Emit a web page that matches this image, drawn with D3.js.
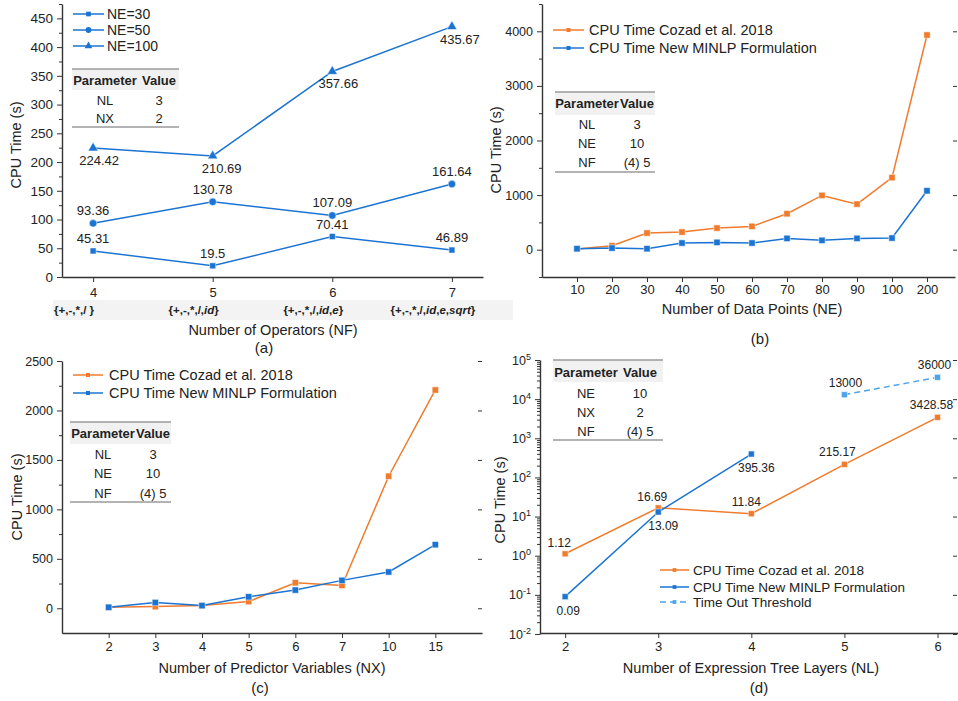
<!DOCTYPE html>
<html>
<head>
<meta charset="utf-8">
<script src="https://cdn.jsdelivr.net/npm/d3@7"></script>
<style>
  body { margin: 0; background: #fff; }
  svg { font-family: "Liberation Sans", Arial, sans-serif; }
</style>
</head>
<body>
<svg id="chart" width="958" height="701"></svg>
<script>
'use strict';

// panel (a): operators
const opCounts = [4, 5, 6, 7];
const opSets = [
  [['{+,-,*,/ }', false]],
  [['{+,-,*,/,', false], ['id', true], ['}', false]],
  [['{+,-,*,/,', false], ['id', true], [',', false], ['e', true], ['}', false]],
  [['{+,-,*,/,', false], ['id', true], [',', false], ['e', true], [',', false], ['sqrt', true], ['}', false]],
];
const ne30 = [45.31, 19.5, 70.41, 46.89];
const ne50 = [93.36, 130.78, 107.09, 161.64];
const ne100 = [224.42, 210.69, 357.66, 435.67];
const paramsA = [['NL', '3'], ['NX', '2']];

// panel (b): data points
const dataPoints = ['10', '20', '30', '40', '50', '60', '70', '80', '90', '100', '200'];
const cozadB = [15, 73, 305, 323, 396, 427, 659, 994, 835, 1320, 3932];
const minlpB = [18, 30, 18, 122, 134, 122, 207, 171, 207, 213, 1079];
const paramsB = [['NL', '3'], ['NE', '10'], ['NF', '(4) 5']];

// panel (c): predictor variables
const predictors = ['2', '3', '4', '5', '6', '7', '10', '15'];
const cozadC = [10, 17, 27, 68, 258, 231, 1335, 2207];
const minlpC = [10, 58, 27, 116, 184, 282, 367, 643];
const paramsC = [['NL', '3'], ['NE', '10'], ['NF', '(4) 5']];

// panel (d): tree layers
const layers = [2, 3, 4, 5, 6];
const cozadD = [1.12, 16.69, 11.84, 215.17, 3428.58];
const minlpD = [0.09, 13.09, 395.36];
const timeoutLayers = [5, 6];
const timeoutD = [13000, 36000];
const paramsD = [['NE', '10'], ['NX', '2'], ['NF', '(4) 5']];

const BLUE = '#1c74d2';
const ORANGE = '#f07b2c';
const LIGHT_BLUE = '#4ea4e8';
const INK = '#222';
const AXIS = '#333';

const svg = d3.select('#chart');

function yAxisLeft(y, x, major, minor, fmt, fontSize) {
  if (minor) {
    svg.append('g').attr('transform', `translate(${x},0)`)
       .call(d3.axisLeft(y).tickValues(minor).tickSize(3).tickFormat(''))
       .call(g => g.select('.domain').remove())
       .selectAll('line').attr('stroke', AXIS);
  }
  const g = svg.append('g').attr('transform', `translate(${x},0)`)
     .call(d3.axisLeft(y).tickValues(major).tickSize(5).tickSizeOuter(0)
             .tickPadding(4).tickFormat(fmt));
  g.select('.domain').attr('stroke', AXIS).attr('stroke-width', 1.4);
  g.selectAll('line').attr('stroke', AXIS);
  g.selectAll('text').attr('font-size', fontSize).attr('fill', INK)
   .attr('font-family', '"Liberation Sans", Arial, sans-serif');
  return g;
}

function yAxisRightTicks(y, x, major) {
  svg.append('g').attr('transform', `translate(${x},0)`)
     .call(d3.axisRight(y).tickValues(major).tickSize(-4).tickFormat(''))
     .call(g => g.select('.domain').remove())
     .selectAll('line').attr('stroke', AXIS);
}

function xAxisBottom(x, y, values, labels, pad) {
  const g = svg.append('g').attr('transform', `translate(0,${y})`)
     .call(d3.axisBottom(x).tickValues(values).tickSize(5).tickSizeOuter(0)
             .tickPadding(pad).tickFormat((d, i) => labels[i]));
  g.select('.domain').attr('stroke', AXIS).attr('stroke-width', 1.4);
  g.selectAll('line').attr('stroke', AXIS);
  g.selectAll('text').attr('font-size', 13).attr('fill', INK)
   .attr('font-family', '"Liberation Sans", Arial, sans-serif');
}

function title(txt, x, y, rotate, size) {
  const t = svg.append('text').attr('text-anchor', 'middle')
     .attr('font-size', size || 14.5).attr('fill', INK).attr('dy', '0.35em')
     .text(txt);
  if (rotate) t.attr('transform', `translate(${x},${y}) rotate(-90)`);
  else t.attr('x', x).attr('y', y);
}

function series(xs, ys, x, y, color, symbolType, size, dashed) {
  const pts = xs.map((v, i) => [x(v), y(ys[i])]);
  svg.append('path').attr('d', d3.line()(pts))
     .attr('fill', 'none').attr('stroke', color).attr('stroke-width', 1.5)
     .attr('stroke-dasharray', dashed ? '6,4' : null);
  svg.append('g').selectAll('path').data(pts).enter().append('path')
     .attr('transform', d => `translate(${d[0]},${d[1]})`)
     .attr('d', d3.symbol().type(symbolType).size(size))
     .attr('fill', color).attr('stroke', '#fff').attr('stroke-width', 0.5);
}

function pointLabels(xs, ys, x, y, offsets, fontSize) {
  svg.append('g').selectAll('text').data(xs).enter().append('text')
     .attr('x', (d, i) => x(d) + offsets[i][0])
     .attr('y', (d, i) => y(ys[i]) + offsets[i][1])
     .attr('text-anchor', 'middle').attr('font-size', fontSize).attr('fill', INK)
     .text((d, i) => ys[i]);
}

function legend(items, x0, x1, tx, ys, fontSize) {
  items.forEach((it, i) => {
    svg.append('line').attr('x1', x0).attr('x2', x1).attr('y1', ys[i]).attr('y2', ys[i])
       .attr('stroke', it.color).attr('stroke-width', 1.5)
       .attr('stroke-dasharray', it.dashed ? '6,4' : null);
    svg.append('path').attr('transform', `translate(${(x0 + x1) / 2},${ys[i]})`)
       .attr('d', d3.symbol().type(it.symbol).size(it.size)).attr('fill', it.color);
    svg.append('text').attr('x', tx).attr('y', ys[i]).attr('dy', '0.35em')
       .attr('font-size', fontSize).attr('fill', INK).text(it.label);
  });
}

function paramTable(rows, t) {
  svg.append('rect').attr('x', t.left).attr('y', t.top)
     .attr('width', t.right - t.left).attr('height', t.headBottom - t.top).attr('fill', '#f1f1f1');
  [t.top, t.bottom].forEach(yy => svg.append('line')
     .attr('x1', t.left).attr('x2', t.right).attr('y1', yy).attr('y2', yy)
     .attr('stroke', '#9a9a9a').attr('stroke-width', 1.5));
  const head = svg.append('g').attr('font-size', 13).attr('font-weight', 'bold').attr('fill', INK)
     .attr('text-anchor', 'middle');
  head.append('text').attr('x', t.c1).attr('y', t.headY).attr('dy', '0.35em').text('Parameter');
  head.append('text').attr('x', t.c2).attr('y', t.headY).attr('dy', '0.35em').text('Value');
  const body = svg.append('g').attr('font-size', 13).attr('fill', INK).attr('text-anchor', 'middle');
  rows.forEach((r, i) => {
    const yy = t.row0 + i * t.step;
    body.append('text').attr('x', t.c1).attr('y', yy).attr('dy', '0.35em').text(r[0]);
    body.append('text').attr('x', t.c2).attr('y', yy).attr('dy', '0.35em').text(r[1]);
  });
}

// ---------- panel (a)
const xA = d3.scaleLinear().domain([3.74, 7.26]).range([62, 483]);
const yA = d3.scaleLinear().domain([0, 475]).range([277, 4]);
yAxisLeft(yA, 62, d3.range(0, 451, 50), d3.range(25, 476, 50), d3.format('d'), 13.5);
xAxisBottom(xA, 277, opCounts, opCounts.map(String), 5.5);
svg.append('rect').attr('x', 53).attr('y', 300).attr('width', 460).attr('height', 20).attr('fill', '#f3f3f3');
svg.append('g').selectAll('text').data(opSets).enter().append('text')
   .attr('x', (d, i) => xA(opCounts[i]) - 19).attr('y', 310).attr('dy', '0.35em')
   .attr('text-anchor', 'middle').attr('font-size', 11.5).attr('font-weight', 'bold').attr('fill', INK)
   .each(function (parts) {
     const t = d3.select(this);
     parts.forEach(p => t.append('tspan').attr('font-style', p[1] ? 'italic' : null).text(p[0]));
   });
title('Number of Operators (NF)', 273, 330);
title('(a)', 264, 348, false, 15);
title('CPU Time (s)', 16, 145, true);
series(opCounts, ne30, xA, yA, BLUE, d3.symbolSquare, 36);
series(opCounts, ne50, xA, yA, BLUE, d3.symbolCircle, 44);
series(opCounts, ne100, xA, yA, BLUE, d3.symbolTriangle, 44);
pointLabels(opCounts, ne30, xA, yA, [[0, -8], [0, -8], [0, -8], [0, -8]], 13);
pointLabels(opCounts, ne50, xA, yA, [[0, -8], [0, -8], [0, -8], [0, -8]], 13);
pointLabels(opCounts, ne100, xA, yA, [[6, 17], [9, 17], [6, 17], [8, 17]], 13);
legend([
  { label: 'NE=30', color: BLUE, symbol: d3.symbolSquare, size: 22 },
  { label: 'NE=50', color: BLUE, symbol: d3.symbolCircle, size: 26 },
  { label: 'NE=100', color: BLUE, symbol: d3.symbolTriangle, size: 26 },
], 73, 104, 107, [14, 30, 46], 14);
paramTable(paramsA, { left: 72, right: 179, top: 69, headBottom: 90, headY: 80,
  row0: 100, step: 18, bottom: 127, c1: 105, c2: 159 });

// ---------- panel (b)
const idxB = dataPoints.map((d, i) => i);
const xB = d3.scaleLinear().domain([-1, 10.8]).range([542, 955]);
const yB = d3.scaleLinear().domain([-500, 4500]).range([277, 4]);
yAxisLeft(yB, 542, d3.range(0, 4001, 1000), d3.range(-500, 4501, 1000), d3.format('d'), 12.5);
yAxisRightTicks(yB, 957, d3.range(0, 4001, 1000));
xAxisBottom(xB, 277, idxB, dataPoints, 3);
title('Number of Data Points (NE)', 752, 309);
title('(b)', 760, 339, false, 15);
title('CPU Time (s)', 496, 150, true);
series(idxB, cozadB, xB, yB, ORANGE, d3.symbolSquare, 40);
series(idxB, minlpB, xB, yB, BLUE, d3.symbolSquare, 40);
legend([
  { label: 'CPU Time Cozad et al. 2018', color: ORANGE, symbol: d3.symbolSquare, size: 16 },
  { label: 'CPU Time New MINLP Formulation', color: BLUE, symbol: d3.symbolSquare, size: 16 },
], 553, 584, 589, [30, 48], 14.5);
paramTable(paramsB, { left: 555, right: 655, top: 92, headBottom: 115, headY: 103,
  row0: 124, step: 19, bottom: 172, c1: 587, c2: 637 });

// ---------- panel (c)
const idxC = predictors.map((d, i) => i);
const xC = d3.scaleLinear().domain([-1, 8]).range([62, 482]);
const yC = d3.scaleLinear().domain([-250, 2500]).range([633, 361]);
yAxisLeft(yC, 62, d3.range(0, 2501, 500), d3.range(250, 2251, 500), d3.format('d'), 12.5);
yAxisRightTicks(yC, 482, d3.range(0, 2501, 500));
xAxisBottom(xC, 633, idxC, predictors, 4);
title('Number of Predictor Variables (NX)', 272, 668);
title('(c)', 260, 688, false, 15);
title('CPU Time (s)', 17, 497, true);
series(idxC, cozadC, xC, yC, ORANGE, d3.symbolSquare, 40);
series(idxC, minlpC, xC, yC, BLUE, d3.symbolSquare, 40);
legend([
  { label: 'CPU Time Cozad et al. 2018', color: ORANGE, symbol: d3.symbolSquare, size: 16 },
  { label: 'CPU Time New MINLP Formulation', color: BLUE, symbol: d3.symbolSquare, size: 16 },
], 73, 103, 109, [375, 393], 14.5);
paramTable(paramsC, { left: 70, right: 171, top: 422, headBottom: 444, headY: 433,
  row0: 454, step: 19.5, bottom: 502, c1: 103, c2: 153 });

// ---------- panel (d)
const xD = d3.scaleLinear().domain([1.73, 6.22]).range([540, 958]);
const yD = d3.scaleLog().domain([1e-2, 1e5]).range([634, 360]);
const decades = d3.range(-2, 6).map(k => Math.pow(10, k));
const minorD = [];
d3.range(-2, 5).forEach(k => d3.range(2, 10).forEach(m => minorD.push(m * Math.pow(10, k))));
const gD = yAxisLeft(yD, 540, decades, minorD, () => '', 12.5);
gD.selectAll('.tick text').each(function (d) {
  const t = d3.select(this);
  t.text('10');
  t.append('tspan').attr('dy', '-0.55em').attr('font-size', 9).text(Math.round(Math.log10(d)));
});
yAxisRightTicks(yD, 957, decades);
xAxisBottom(xD, 633, layers, layers.map(String), 4);
title('Number of Expression Tree Layers (NL)', 751, 668);
title('(d)', 759, 688, false, 15);
title('CPU Time (s)', 500, 500, true);
series(layers, cozadD, xD, yD, ORANGE, d3.symbolSquare, 36);
series(layers.slice(0, 3), minlpD, xD, yD, BLUE, d3.symbolSquare, 36);
series(timeoutLayers, timeoutD, xD, yD, LIGHT_BLUE, d3.symbolSquare, 36, true);
pointLabels(layers, cozadD, xD, yD, [[-6, -7], [-6, -7], [-5, -8], [-7, -8], [-6, -8]], 12);
pointLabels(layers.slice(0, 3), minlpD, xD, yD, [[3, 18], [5, 18], [5, 18]], 12);
pointLabels(timeoutLayers, timeoutD, xD, yD, [[1, -8], [-3, -8]], 12);
legend([
  { label: 'CPU Time Cozad et al. 2018', color: ORANGE, symbol: d3.symbolSquare, size: 14 },
  { label: 'CPU Time New MINLP Formulation', color: BLUE, symbol: d3.symbolSquare, size: 14 },
  { label: 'Time Out Threshold', color: LIGHT_BLUE, symbol: d3.symbolSquare, size: 14, dashed: true },
], 660, 689, 693, [570, 587, 602], 13.5);
paramTable(paramsD, { left: 553, right: 663, top: 360, headBottom: 382, headY: 372,
  row0: 393, step: 19, bottom: 440, c1: 586, c2: 640 });
</script>
</body>
</html>
